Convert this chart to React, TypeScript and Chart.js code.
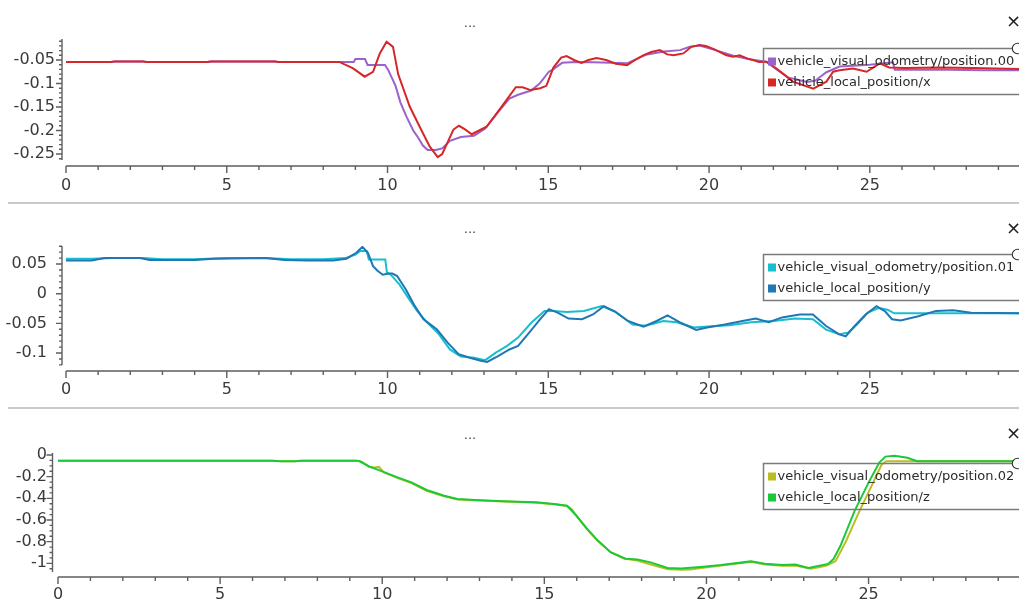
import React, { useEffect, useRef } from "react";
import { Chart, registerables } from "chart.js";

Chart.register(...registerables);

// ---------- shared axis data ----------
const xMax = 29.64;
const xTickValues = [0, 5, 10, 15, 20, 25];
const xTickLabels = ["0", "5", "10", "15", "20", "25"];

// ---------- panel 1 : x ----------
const p1Names = ["vehicle_visual_odometry/position.00", "vehicle_local_position/x"];
const p1YTicks = [-0.05, -0.1, -0.15, -0.2, -0.25];
const p1YLabels = ["-0.05", "-0.1", "-0.15", "-0.2", "-0.25"];
const p1VoT = [0, 1.4, 1.5, 2.4, 2.5, 4.4, 4.5, 6.5, 6.6, 8.95, 9.0, 9.3, 9.38, 9.92, 10.02, 10.25, 10.4, 10.6, 10.8, 10.95, 11.1, 11.25, 11.5, 11.7, 11.94, 12.28, 12.69, 13.04, 13.45, 13.79, 14.06, 14.47, 14.73, 15.02, 15.15, 15.43, 15.84, 16.39, 16.93, 17.45, 18.03, 18.6, 19.1, 19.4, 19.7, 20.2, 20.75, 21.3, 21.78, 22.1, 22.45, 23.05, 23.3, 23.65, 24.06, 24.47, 25.0, 25.72, 25.78, 26.5, 27.5, 28.5, 29.64];
const p1VoV = [-0.054, -0.054, -0.053, -0.053, -0.054, -0.054, -0.053, -0.053, -0.054, -0.054, -0.048, -0.048, -0.0606, -0.0606, -0.071, -0.105, -0.14, -0.172, -0.2, -0.215, -0.232, -0.2415, -0.2415, -0.238, -0.222, -0.214, -0.211, -0.196, -0.16, -0.132, -0.124, -0.115, -0.1, -0.075, -0.07, -0.056, -0.054, -0.055, -0.056, -0.057, -0.039, -0.032, -0.029, -0.022, -0.019, -0.029, -0.041, -0.049, -0.0535, -0.07, -0.087, -0.097, -0.094, -0.076, -0.064, -0.062, -0.06, -0.055, -0.071, -0.071, -0.071, -0.072, -0.072];
const p1LpT = [0, 1.4, 1.5, 2.4, 2.5, 4.4, 4.5, 6.5, 6.6, 8.5, 8.93, 9.29, 9.55, 9.76, 9.97, 10.17, 10.33, 10.69, 11.0, 11.31, 11.56, 11.7, 11.85, 12.05, 12.22, 12.4, 12.62, 12.85, 13.08, 13.51, 13.99, 14.2, 14.45, 14.75, 14.94, 15.16, 15.4, 15.57, 15.8, 16.03, 16.25, 16.5, 16.8, 17.1, 17.45, 17.7, 17.95, 18.2, 18.47, 18.7, 18.9, 19.2, 19.45, 19.71, 19.9, 20.15, 20.54, 20.75, 20.95, 21.2, 21.37, 21.55, 21.78, 22.1, 22.61, 23.24, 23.65, 23.86, 24.06, 24.48, 24.9, 25.31, 25.6, 26.1, 27.15, 28.2, 29.64];
const p1LpV = [-0.054, -0.054, -0.053, -0.053, -0.054, -0.054, -0.053, -0.053, -0.054, -0.054, -0.068, -0.0855, -0.075, -0.036, -0.011, -0.022, -0.08, -0.149, -0.192, -0.234, -0.2565, -0.25, -0.228, -0.198, -0.19, -0.197, -0.208, -0.2, -0.192, -0.153, -0.108, -0.108, -0.114, -0.11, -0.105, -0.066, -0.045, -0.0415, -0.05, -0.056, -0.05, -0.046, -0.05, -0.058, -0.061, -0.05, -0.04, -0.033, -0.029, -0.038, -0.04, -0.036, -0.022, -0.018, -0.02, -0.027, -0.04, -0.043, -0.04, -0.047, -0.05, -0.054, -0.0535, -0.068, -0.096, -0.111, -0.096, -0.075, -0.072, -0.068, -0.075, -0.057, -0.066, -0.067, -0.066, -0.067, -0.069];

// ---------- panel 2 : y ----------
const p2Names = ["vehicle_visual_odometry/position.01", "vehicle_local_position/y"];
const p2YTicks = [0.05, 0, -0.05, -0.1];
const p2YLabels = ["0.05", "0", "-0.05", "-0.1"];
const p2VoT = [0, 0.8, 1.5, 2.4, 3.0, 4.0, 5.0, 6.2, 7.0, 8.0, 8.7, 9.0, 9.15, 9.35, 9.42, 9.93, 9.98, 10.09, 10.37, 10.64, 10.92, 11.19, 11.6, 11.94, 12.28, 12.69, 13.04, 13.38, 13.72, 14.06, 14.47, 14.88, 15.16, 15.57, 16.11, 16.66, 17.07, 17.62, 18.03, 18.58, 18.99, 19.53, 20.08, 20.63, 21.31, 22.0, 22.68, 23.23, 23.64, 24.05, 24.32, 24.6, 24.94, 25.28, 25.55, 25.76, 29.64];
const p2VoV = [0.059, 0.059, 0.06, 0.06, 0.058, 0.058, 0.06, 0.06, 0.058, 0.058, 0.06, 0.066, 0.072, 0.072, 0.0577, 0.0577, 0.036, 0.0325, 0.0157, -0.0067, -0.029, -0.046, -0.0685, -0.094, -0.106, -0.108, -0.112, -0.099, -0.088, -0.074, -0.049, -0.029, -0.029, -0.031, -0.029, -0.021, -0.03, -0.052, -0.054, -0.046, -0.048, -0.057, -0.055, -0.053, -0.048, -0.046, -0.042, -0.043, -0.0605, -0.0685, -0.066, -0.052, -0.032, -0.024, -0.027, -0.033, -0.033];
const p2LpT = [0, 0.8, 1.2, 2.3, 2.6, 4.0, 4.6, 6.2, 6.8, 7.5, 8.3, 8.72, 9.03, 9.22, 9.39, 9.55, 9.68, 9.85, 10.05, 10.15, 10.3, 10.57, 10.85, 11.12, 11.53, 11.87, 12.21, 12.56, 12.9, 13.1, 13.45, 13.79, 14.06, 14.4, 14.75, 15.02, 15.29, 15.63, 16.05, 16.39, 16.73, 17.07, 17.48, 17.96, 18.37, 18.71, 19.12, 19.6, 19.94, 20.49, 21.04, 21.45, 21.86, 22.27, 22.82, 23.23, 23.64, 24.05, 24.25, 24.53, 24.87, 25.21, 25.48, 25.69, 25.96, 26.51, 27.06, 27.6, 28.15, 29.64];
const p2LpV = [0.056, 0.056, 0.06, 0.06, 0.057, 0.057, 0.059, 0.06, 0.057, 0.056, 0.056, 0.059, 0.069, 0.079, 0.069, 0.0465, 0.039, 0.032, 0.034, 0.034, 0.0298, 0.0072, -0.021, -0.0433, -0.06, -0.0825, -0.102, -0.108, -0.113, -0.115, -0.105, -0.094, -0.088, -0.066, -0.043, -0.026, -0.032, -0.042, -0.043, -0.035, -0.021, -0.03, -0.046, -0.0556, -0.046, -0.0365, -0.049, -0.061, -0.057, -0.052, -0.046, -0.042, -0.048, -0.04, -0.035, -0.035, -0.0545, -0.0685, -0.072, -0.0545, -0.035, -0.021, -0.03, -0.043, -0.045, -0.038, -0.029, -0.028, -0.032, -0.033];

// ---------- panel 3 : z ----------
const p3Names = ["vehicle_visual_odometry/position.02", "vehicle_local_position/z"];
const p3YTicks = [0, -0.2, -0.4, -0.6, -0.8, -1];
const p3YLabels = ["0", "-0.2", "-0.4", "-0.6", "-0.8", "-1"];
const p3VoT = [0, 6.6, 6.9, 7.3, 7.5, 9.2, 9.35, 9.6, 9.75, 9.9, 10.05, 10.5, 10.9, 11.37, 11.91, 12.32, 12.86, 13.54, 14.21, 14.75, 15.3, 15.7, 15.85, 16.0, 16.31, 16.65, 17.06, 17.46, 17.87, 18.28, 18.82, 19.22, 19.5, 19.9, 20.58, 21.39, 21.8, 22.34, 22.74, 23.22, 23.69, 23.98, 24.3, 24.7, 25.1, 25.4, 25.55, 29.64];
const p3VoV = [-0.052, -0.052, -0.058, -0.058, -0.052, -0.052, -0.06, -0.11, -0.115, -0.11, -0.16, -0.215, -0.26, -0.33, -0.38, -0.41, -0.418, -0.428, -0.433, -0.44, -0.455, -0.47, -0.5, -0.565, -0.685, -0.795, -0.9, -0.955, -0.975, -1.01, -1.055, -1.06, -1.058, -1.04, -1.015, -0.985, -1.01, -1.022, -1.02, -1.05, -1.022, -0.98, -0.8, -0.53, -0.28, -0.09, -0.058, -0.058];
const p3LpT = [0, 6.6, 6.9, 7.3, 7.5, 9.2, 9.3, 9.61, 10.02, 10.49, 10.9, 11.37, 11.91, 12.32, 12.86, 13.54, 14.21, 14.75, 15.3, 15.7, 15.97, 16.31, 16.65, 17.04, 17.5, 17.87, 18.28, 18.8, 19.22, 19.9, 20.45, 21.37, 21.8, 22.34, 22.74, 23.15, 23.75, 23.92, 24.13, 24.57, 25.0, 25.33, 25.52, 25.8, 26.2, 26.5, 29.64];
const p3LpV = [-0.052, -0.052, -0.058, -0.058, -0.052, -0.052, -0.058, -0.108, -0.154, -0.209, -0.252, -0.323, -0.376, -0.406, -0.415, -0.425, -0.431, -0.437, -0.452, -0.468, -0.554, -0.677, -0.79, -0.897, -0.958, -0.965, -0.991, -1.043, -1.047, -1.031, -1.015, -0.982, -1.003, -1.016, -1.01, -1.043, -1.005, -0.96, -0.84, -0.515, -0.255, -0.07, -0.015, -0.007, -0.025, -0.058, -0.058];

// ---------- styles ----------
const FONT = "'DejaVu Sans', sans-serif";
const AXIS_COLOR = "#5e5e5e";
const LABEL_COLOR = "#3a3a3a";

const panels = [
  {
    top: 0, height: 202, areaLeft: 66, areaTop: 39, xAxisH: 42,
    yMin: -0.2628, yMax: -0.0053, yTicks: p1YTicks, yLabels: p1YLabels, yMinorStep: 0.01,
    yLabelPad: 11, xLabelPad: 16, yAxisGap: 4, xAxisGap: 6,
    names: p1Names, colors: ["#9a63cc", "#d62728"],
    series: [[p1VoT, p1VoV], [p1LpT, p1LpV]],
    legendTop: 48.5, titleY: 27, closeY: 22.5,
  },
  {
    top: 203, height: 204, areaLeft: 66, areaTop: 43, xAxisH: 42,
    yMin: -0.1202, yMax: 0.0804, yTicks: p2YTicks, yLabels: p2YLabels, yMinorStep: 0.01,
    yLabelPad: 19, xLabelPad: 15.5, yAxisGap: 4, xAxisGap: 6,
    names: p2Names, colors: ["#17becf", "#1f77b4"],
    series: [[p2VoT, p2VoV], [p2LpT, p2LpV]],
    legendTop: 51.5, titleY: 30, closeY: 26,
  },
  {
    top: 408, height: 195, areaLeft: 58, areaTop: 45, xAxisH: 31,
    yMin: -1.08, yMax: 0.0185, yTicks: p3YTicks, yLabels: p3YLabels, yMinorStep: 0.05,
    yLabelPad: 11, xLabelPad: 13, yAxisGap: 5.5, xAxisGap: 5,
    names: p3Names, colors: ["#bcbd22", "#1ac938"],
    series: [[p3VoT, p3VoV], [p3LpT, p3LpV]],
    legendTop: 55.5, titleY: 31, closeY: 26.5,
  },
];

const decorPlugin = {
  id: "qwtDecor",
  afterDraw(chart: any, _args: any, opts: any) {
    const cfg = opts && opts.cfg;
    if (!cfg) return;
    const { ctx, chartArea: a } = chart;
    const xs = chart.scales.x;
    const ys = chart.scales.y;
    ctx.save();
    ctx.strokeStyle = AXIS_COLOR;
    ctx.lineWidth = 1.4;
    ctx.beginPath();
    const bx = a.left - cfg.yAxisGap;
    ctx.moveTo(bx, a.top);
    ctx.lineTo(bx, a.bottom);
    for (const v of cfg.yTicks) {
      const p = ys.getPixelForValue(v);
      ctx.moveTo(bx, p);
      ctx.lineTo(bx - 6, p);
    }
    const kmin = Math.ceil(cfg.yMin / cfg.yMinorStep - 1e-6);
    const kmax = Math.floor(cfg.yMax / cfg.yMinorStep + 1e-6);
    for (let k = kmin; k <= kmax; k++) {
      const p = ys.getPixelForValue(k * cfg.yMinorStep);
      ctx.moveTo(bx, p);
      ctx.lineTo(bx - 3, p);
    }
    const by = a.bottom + cfg.xAxisGap;
    ctx.moveTo(a.left, by);
    ctx.lineTo(a.right, by);
    for (let k = 0; k <= Math.floor(xMax); k++) {
      const p = xs.getPixelForValue(k);
      const len = xTickValues.includes(k) ? 7 : 4;
      ctx.moveTo(p, by);
      ctx.lineTo(p, by + len);
    }
    ctx.stroke();

    const lx = 763.5;
    const lt = cfg.legendTop;
    ctx.strokeStyle = "#7b7b7b";
    ctx.lineWidth = 1.5;
    ctx.strokeRect(lx, lt, 300, 46);
    ctx.font = "13px " + FONT;
    ctx.textAlign = "left";
    ctx.textBaseline = "middle";
    cfg.names.forEach((n: string, i: number) => {
      const ry = lt + 13 + i * 21;
      ctx.fillStyle = cfg.colors[i];
      ctx.fillRect(768, ry - 4, 8, 8);
      ctx.fillStyle = "#2b2b2b";
      ctx.fillText(n, 777.5, ry + 0.5);
    });

    ctx.fillStyle = "#444";
    ctx.font = "13px " + FONT;
    ctx.textAlign = "center";
    ctx.textBaseline = "alphabetic";
    ctx.fillText("...", 470, cfg.titleY);

    ctx.fillStyle = "#222";
    ctx.font = "18px " + FONT;
    ctx.textBaseline = "middle";
    ctx.fillText("×", 1013.5, cfg.closeY);

    ctx.beginPath();
    ctx.arc(1017.5, lt, 5.2, 0, Math.PI * 2);
    ctx.fillStyle = "#ffffff";
    ctx.fill();
    ctx.strokeStyle = "#333";
    ctx.lineWidth = 1.1;
    ctx.stroke();
    ctx.restore();
  },
};

function Panel({ cfg }: { cfg: any }) {
  const ref = useRef<HTMLCanvasElement>(null);
  useEffect(() => {
    if (!ref.current) return;
    const datasets = cfg.series.map((s: number[][], i: number) => ({
      label: cfg.names[i],
      data: s[0].map((t: number, j: number) => ({ x: t, y: s[1][j] })),
      borderColor: cfg.colors[i],
      backgroundColor: cfg.colors[i],
      borderWidth: 2,
      pointRadius: 0,
      tension: 0,
      fill: false,
      order: i === 0 ? 1 : 0,
    }));
    const chart = new Chart(ref.current, {
      type: "line",
      data: { datasets },
      plugins: [decorPlugin],
      options: {
        responsive: false,
        animation: false,
        events: [],
        layout: { padding: { top: cfg.areaTop, left: 0, right: 0, bottom: 0 } },
        plugins: {
          legend: { display: false },
          tooltip: { enabled: false },
          title: { display: false },
          qwtDecor: { cfg },
        } as any,
        scales: {
          x: {
            type: "linear",
            min: 0,
            max: xMax,
            grid: { display: false, drawTicks: false },
            border: { display: false },
            ticks: {
              font: { family: FONT, size: 16 },
              color: LABEL_COLOR,
              padding: cfg.xLabelPad,
              maxRotation: 0,
              autoSkip: false,
              includeBounds: false,
              callback: (_v: any, i: number) => xTickLabels[i],
            },
            afterBuildTicks: (s: any) => {
              s.ticks = xTickValues.map((v) => ({ value: v }));
            },
            afterFit: (s: any) => {
              s.height = cfg.xAxisH;
            },
          },
          y: {
            type: "linear",
            min: cfg.yMin,
            max: cfg.yMax,
            grid: { display: false, drawTicks: false },
            border: { display: false },
            ticks: {
              font: { family: FONT, size: 16 },
              color: LABEL_COLOR,
              padding: cfg.yLabelPad,
              autoSkip: false,
              includeBounds: false,
              callback: (_v: any, i: number) => cfg.yLabels[i],
            },
            afterBuildTicks: (s: any) => {
              s.ticks = cfg.yTicks.map((v: number) => ({ value: v }));
            },
            afterFit: (s: any) => {
              s.width = cfg.areaLeft;
            },
          },
        },
      } as any,
    });
    return () => chart.destroy();
  }, [cfg]);
  return (
    <canvas
      ref={ref}
      width={1019}
      height={cfg.height}
      style={{ position: "absolute", left: 0, top: cfg.top, width: 1019, height: cfg.height }}
    />
  );
}

export default function App() {
  return (
    <div
      style={{
        position: "fixed",
        left: 0,
        top: 0,
        width: 1019,
        height: 603,
        background: "#ffffff",
        overflow: "hidden",
      }}
    >
      {panels.map((p, i) => (
        <Panel key={i} cfg={p} />
      ))}
      <div style={{ position: "absolute", left: 8, top: 202, width: 1011, height: 1.5, background: "#c9c9c9" }} />
      <div style={{ position: "absolute", left: 8, top: 407, width: 1011, height: 1.5, background: "#c9c9c9" }} />
    </div>
  );
}
